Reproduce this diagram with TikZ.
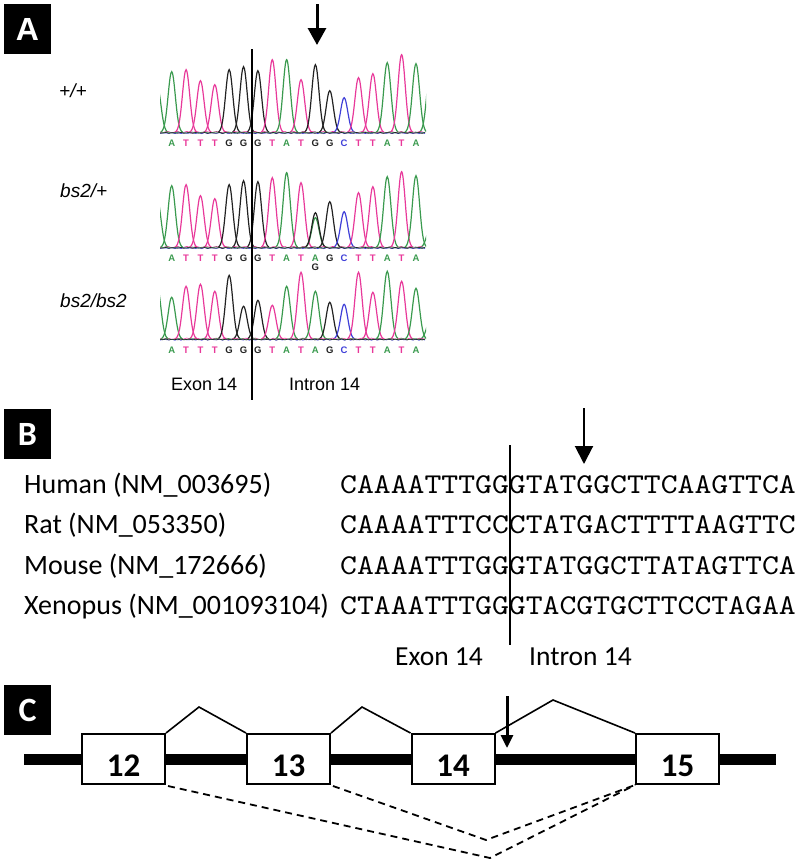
\documentclass[tikz,border=0pt]{standalone}
\usepackage{fontspec}
\setmainfont{Carlito}
\newfontfamily\arialf{Liberation Sans}
\newfontfamily\monof[FakeStretch=1.12]{lmmono10-regular.otf}
\usetikzlibrary{arrows.meta}
\definecolor{cA}{HTML}{3A9A4E}
\definecolor{cT}{HTML}{E8399A}
\definecolor{cG}{HTML}{222222}
\definecolor{cC}{HTML}{4040D8}
\tikzset{
  panellab/.style={fill=black, text=white, minimum width=47pt, minimum height=50pt, inner sep=0pt},
  seqlet/.style={font=\arialf\bfseries\fontsize{9.5}{10}\selectfont, inner sep=0pt},
  genolab/.style={font=\arialf\itshape\fontsize{19}{21}\selectfont, anchor=base west, inner sep=0pt},
  alab/.style={font=\arialf\fontsize{18}{20}\selectfont, anchor=base west, inner sep=0pt},
  sptxt/.style={font=\fontsize{28}{30}\selectfont, anchor=base west, inner sep=0pt},
  seqtxt/.style={font=\monof\fontsize{28.7}{30}\selectfont, anchor=base west, inner sep=0pt},
  exbox/.style={draw, line width=2pt, fill=white, minimum width=83pt, minimum height=50pt, inner sep=0pt},
  exnum/.style={font=\bfseries\fontsize{33}{35}\selectfont, inner sep=0pt},
  trace/.style={line width=1.2pt},
  noise/.style={line width=0.6pt},
  splice/.style={line width=1.6pt},
  skip/.style={line width=1.8pt, dash pattern=on 7pt off 5pt},
}
\newcommand\chrompeaks[2]{% #1 baseline, #2 list i/h/col
  \foreach \i/\h/\col in {#2} {
    \pgfmathsetmacro\c{157.33+14.37*\i}
    \pgfmathsetmacro\lo{\c-11}
    \pgfmathsetmacro\hi{\c+11}
    \draw[trace, \col] plot[domain=\lo:\hi, samples=27, smooth] (\x,{#1-\h*exp(-((\x-\c)*(\x-\c))/25.92)});
  }
  \draw[noise, cT] plot[domain=0:265, samples=90] ({\x+160},{#1-0.6+0.7*sin(\x*37)});
  \draw[noise, cC] plot[domain=0:265, samples=90] ({\x+160},{#1+0.4+0.6*sin(\x*53+40)});
  \draw[noise, cA] plot[domain=0:265, samples=90] ({\x+160},{#1-0.2+0.6*sin(\x*29+80)});
  \draw[noise, cG] plot[domain=0:265, samples=90] ({\x+160},{#1+0.2+0.5*sin(\x*47+10)});
}
\begin{document}
\begin{tikzpicture}[x=1pt,y=-1pt]
\useasboundingbox (0,0) rectangle (800,865);

% ---------------- Panel A ----------------
\node[panellab, font=\arialf\bfseries\fontsize{32}{34}\selectfont] (labA) at (27.5,29) {A};

\node[genolab] (g1) at (59,97) {+/+};
\node[genolab] (g2) at (60,197) {bs2/+};
\node[genolab] (g3) at (60,307) {bs2/bs2};

\begin{scope}
\clip (160,40) rectangle (426,135);
\chrompeaks{132.7}{0/46/cA, 1/61/cA, 2/63/cT, 3/52/cT, 4/48/cT, 5/63/cG, 6/66/cG, 7/62/cG, 8/73/cT, 9/73/cA, 10/53/cT, 11/68/cG, 12/42/cG, 13/35/cC, 14/55/cT, 15/59/cT, 16/70/cA, 17/78/cT, 18/69/cA, 19/63/cA}
\end{scope}
\begin{scope}
\clip (160,150) rectangle (426,250);
\chrompeaks{247.7}{0/48/cA, 1/62/cA, 2/63/cT, 3/52/cT, 4/49/cT, 5/63/cG, 6/67/cG, 7/66/cG, 8/70/cT, 9/75/cA, 10/65/cT, 11/30/cA, 11/35/cG, 12/46/cG, 13/36/cC, 14/55/cT, 15/61/cT, 16/71/cA, 17/76/cT, 18/72/cA, 19/20/cA}
\end{scope}
\begin{scope}
\clip (160,260) rectangle (426,342);
\chrompeaks{339.3}{0/52/cA, 1/42/cA, 2/53/cT, 3/55/cT, 4/48/cT, 5/64/cG, 6/33/cG, 7/39/cG, 8/34/cT, 9/53/cA, 10/67/cT, 11/48/cA, 12/37/cG, 13/35/cC, 14/67/cT, 15/47/cT, 16/68/cA, 17/58/cT, 18/51/cA, 19/20/cA}
\end{scope}

\foreach \i/\l/\col in {1/A/cA, 2/T/cT, 3/T/cT, 4/T/cT, 5/G/cG, 6/G/cG, 7/G/cG, 8/T/cT, 9/A/cA, 10/T/cT, 11/G/cG, 12/G/cG, 13/C/cC, 14/T/cT, 15/T/cT, 16/A/cA, 17/T/cT, 18/A/cA}
  \node[seqlet, text=\col] (pa\i) at ({157.33+14.37*\i},143) {\l};
\foreach \i/\l/\col in {1/A/cA, 2/T/cT, 3/T/cT, 4/T/cT, 5/G/cG, 6/G/cG, 7/G/cG, 8/T/cT, 9/A/cA, 10/T/cT, 11/A/cA, 12/G/cG, 13/C/cC, 14/T/cT, 15/T/cT, 16/A/cA, 17/T/cT, 18/A/cA}
  \node[seqlet, text=\col] (pb\i) at ({157.33+14.37*\i},258) {\l};
\node[seqlet, text=cG] (pbx) at ({157.33+14.37*11},267.5) {G};
\foreach \i/\l/\col in {1/A/cA, 2/T/cT, 3/T/cT, 4/T/cT, 5/G/cG, 6/G/cG, 7/G/cG, 8/T/cT, 9/A/cA, 10/T/cT, 11/A/cA, 12/G/cG, 13/C/cC, 14/T/cT, 15/T/cT, 16/A/cA, 17/T/cT, 18/A/cA}
  \node[seqlet, text=\col] (pc\i) at ({157.33+14.37*\i},350) {\l};

\coordinate (avt) at (252,49);
\coordinate (avb) at (252,400);
\draw[line width=2.5pt] (avt) -- (avb);
\node[alab] (aex) at (171,390.5) {Exon 14};
\node[alab] (ain) at (289,390.5) {Intron 14};

\coordinate (aa1) at (317,4);
\coordinate (aa2) at (317,45);
\draw[line width=3pt, -{Triangle[width=18pt,length=17pt]}] (aa1) -- (aa2);

% ---------------- Panel B ----------------
\node[panellab, font=\bfseries\fontsize{34}{36}\selectfont] (labB) at (27.5,434) {B};

\node[sptxt] (sp1) at (24,493) {Human (NM\_003695)};
\node[sptxt] (sp2) at (24,533.5) {Rat (NM\_053350)};
\node[sptxt] (sp3) at (24,574) {Mouse (NM\_172666)};
\node[sptxt] (sp4) at (24,614.5) {Xenopus (NM\_001093104)};

\node[seqtxt] (sq1) at (340,493) {CAAAATTTGGGTATGGCTTCAAGTTCA};
\node[seqtxt] (sq2) at (340,533.5) {CAAAATTTCCCTATGACTTTTAAGTTC};
\node[seqtxt] (sq3) at (340,574) {CAAAATTTGGGTATGGCTTATAGTTCA};
\node[seqtxt] (sq4) at (340,614.5) {CTAAATTTGGGTACGTGCTTCCTAGAA};

\coordinate (bvt) at (510,445);
\coordinate (bvb) at (510,645);
\draw[line width=1.8pt] (bvt) -- (bvb);
\node[sptxt, font=\fontsize{27.5}{30}\selectfont] (bex) at (395,665) {Exon 14};
\node[sptxt, font=\fontsize{27.5}{30}\selectfont] (bin) at (529,665) {Intron 14};

\coordinate (ba1) at (584,408);
\coordinate (ba2) at (584,464);
\draw[line width=2pt, -{Triangle[width=18pt,length=18pt]}] (ba1) -- (ba2);

% ---------------- Panel C ----------------
\node[panellab, font=\bfseries\fontsize{34}{36}\selectfont] (labC) at (27.5,710) {C};

\coordinate (gl) at (24,759);
\coordinate (gr) at (776,759);
\draw[line width=11pt] (gl) -- (gr);

\node[exbox] (e12) at (123.5,759) {};
\node[exbox] (e13) at (288.5,759) {};
\node[exbox] (e14) at (453,759) {};
\node[exbox] (e15) at (677.5,759) {};
\node[exnum] (n12) at (123.5,766) {12};
\node[exnum] (n13) at (288.5,766) {13};
\node[exnum] (n14) at (453,766) {14};
\node[exnum] (n15) at (677.5,766) {15};

\coordinate (k1) at (199,707);
\coordinate (k2) at (362,707);
\coordinate (k3) at (553,700);
\draw[splice] (e12.north east) -- (k1) -- (e13.north west);
\draw[splice] (e13.north east) -- (k2) -- (e14.north west);
\draw[splice] (e14.north east) -- (k3) -- (e15.north west);

\coordinate (v1) at (490,858);
\coordinate (v2) at (486,840);
\draw[skip] ([xshift=2pt,yshift=-1pt]e12.south east) -- (v1) -- (e15.south west);
\draw[skip] ([xshift=2pt,yshift=-1pt]e13.south east) -- (v2) -- (e15.south west);

\coordinate (ca1) at (507,696);
\coordinate (ca2) at (507,748);
\draw[line width=3pt, -{Triangle[width=12pt,length=13pt]}] (ca1) -- (ca2);
\end{tikzpicture}
\end{document}
